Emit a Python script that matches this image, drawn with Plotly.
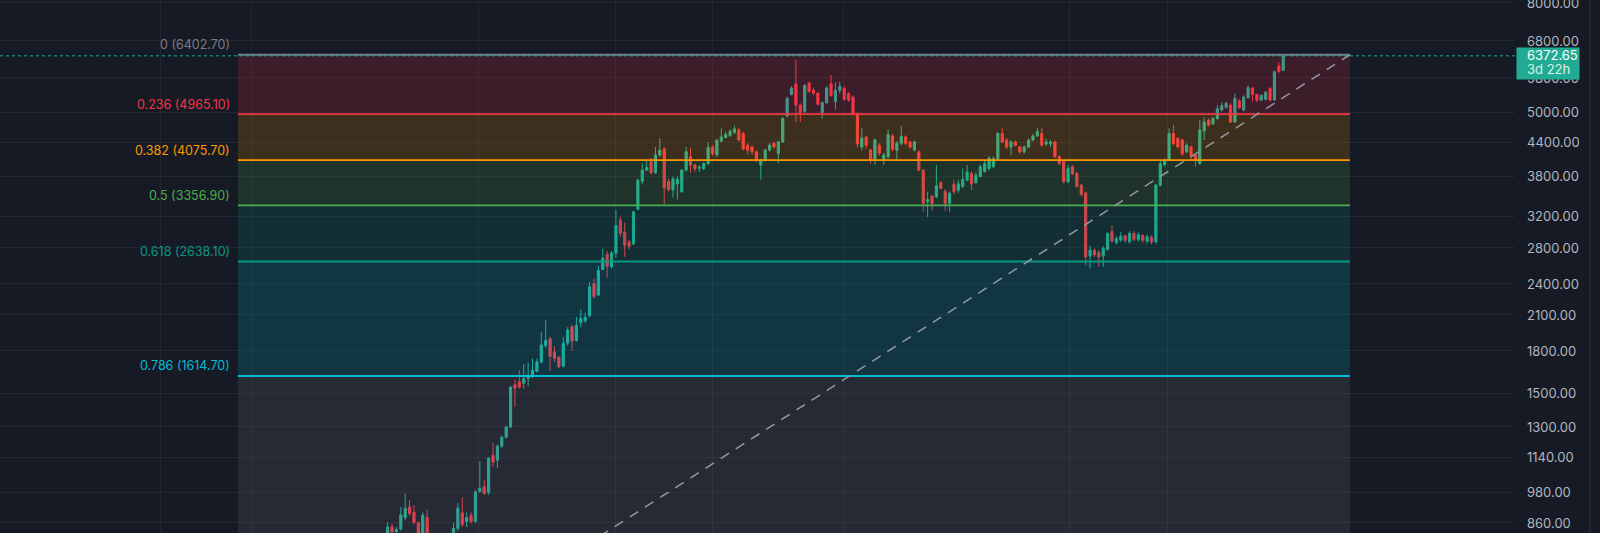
import math
import plotly.graph_objects as go

# ---------------- data ----------------
opens = [822, 845, 828, 838, 880, 921, 900, 860, 815, 880, 790, 720, 750, 780, 760, 790, 840, 898, 865, 888,
         866, 985, 1004, 980, 1149, 1125, 1195, 1242, 1297, 1555, 1575, 1565, 1598, 1612, 1648, 1715, 1840, 1895, 1790, 1750,
         1685, 1860, 1995, 1880, 2030, 2045, 2090, 2400, 2285, 2550, 2720, 2580, 2735, 3150, 2995, 2870, 2845, 3300, 3720, 3905,
         4050, 3860, 4165, 4275, 3720, 3585, 3680, 3560, 3904, 4135, 3990, 3935, 3930, 4015, 4310, 4170, 4420, 4490, 4530, 4590,
         4635, 4570, 4345, 4310, 4222, 3990, 4075, 4254, 4380, 4190, 4405, 4925, 5400, 5650, 5160, 5020, 5670, 5500, 5430, 5000,
         5210, 5650, 5240, 5500, 5540, 5420, 5340, 4965, 4310, 4500, 4254, 4075, 4345, 4075, 4135, 4520, 4250, 4380, 4500, 4405,
         4254, 4222, 3904, 3410, 3490, 3480, 3700, 3560, 3385, 3670, 3580, 3640, 3740, 3850, 3700, 3800, 3880, 3930, 3960, 4100,
         4570, 4440, 4310, 4405, 4310, 4222, 4310, 4441, 4520, 4570, 4370, 4370, 4405, 4135, 4050, 3715, 3960, 3850, 3660, 3540,
         2700, 2770, 2740, 2700, 2780, 3000, 2860, 2890, 2945, 2870, 2975, 2900, 2950, 2880, 2930, 2870, 3660, 3995, 4075, 4570,
         4470, 4441, 4222, 4310, 4164, 4015, 4620, 4838, 4760, 4870, 5050, 5110, 5160, 4800, 5250, 5050, 5330, 5550, 5400, 5270,
         5290, 5540, 5272, 6100, 5990]
highs = [862, 856, 845, 921, 976, 948, 928, 865, 900, 910, 812, 770, 800, 805, 800, 860, 936, 960, 900, 900,
         990, 1120, 1033, 1140, 1212, 1205, 1250, 1305, 1545, 1590, 1655, 1700, 1710, 1740, 1740, 1950, 2050, 1910, 1835, 1760,
         1910, 1990, 2010, 2080, 2150, 2120, 2420, 2450, 2590, 2790, 2760, 2760, 3290, 3200, 3120, 2900, 3280, 3760, 4020, 4060,
         4110, 4310, 4480, 4310, 3760, 3800, 3800, 3920, 4310, 4300, 4010, 3990, 4040, 4400, 4340, 4460, 4670, 4600, 4650, 4720,
         4680, 4600, 4380, 4340, 4250, 4100, 4280, 4380, 4410, 4430, 4900, 5350, 5600, 6260, 5200, 5650, 5700, 5560, 5450, 5240,
         5600, 5870, 5680, 5700, 5600, 5450, 5380, 5000, 4680, 4520, 4280, 4470, 4380, 4200, 4640, 4560, 4420, 4720, 4530, 4430,
         4430, 4250, 3920, 3560, 3510, 3990, 3720, 3600, 3560, 3740, 3740, 3930, 3990, 3880, 3870, 4000, 4060, 4140, 4140, 4600,
         4680, 4480, 4440, 4430, 4330, 4340, 4470, 4560, 4680, 4680, 4470, 4440, 4430, 4160, 4075, 3990, 3990, 3880, 3680, 3560,
         2820, 2790, 2770, 2820, 2990, 3080, 2940, 2990, 2960, 3000, 3010, 2990, 2970, 2960, 2950, 3680, 4060, 4100, 4670, 4740,
         4500, 4460, 4380, 4340, 4180, 4840, 4900, 4870, 4900, 5160, 5220, 5230, 5200, 5430, 5300, 5380, 5610, 5580, 5420, 5400,
         5480, 5580, 5980, 6200, 6402.7]
lows = [805, 815, 818, 832, 870, 886, 855, 800, 805, 770, 700, 690, 730, 740, 745, 780, 830, 845, 845, 858,
        860, 978, 970, 970, 1093, 1088, 1185, 1236, 1290, 1415, 1530, 1530, 1545, 1600, 1640, 1705, 1820, 1650, 1715, 1670,
        1675, 1840, 1800, 1870, 1990, 2030, 2080, 2250, 2275, 2540, 2460, 2560, 2680, 2930, 2690, 2780, 2830, 3290, 3670, 3890,
        3830, 3840, 4130, 3375, 3560, 3470, 3440, 3540, 3880, 3860, 3880, 3870, 3900, 3990, 4150, 4130, 4400, 4470, 4500, 4560,
        4420, 4250, 4180, 4170, 4040, 3750, 4050, 4230, 4280, 4020, 4390, 4900, 5380, 4800, 4800, 4990, 5440, 5380, 5150, 4870,
        5190, 5350, 5060, 5420, 5260, 5230, 4930, 4300, 4250, 4280, 4010, 3990, 4150, 3990, 4100, 4230, 4075, 4340, 4340, 4280,
        4230, 3880, 3265, 3190, 3280, 3460, 3590, 3280, 3265, 3520, 3540, 3610, 3720, 3583, 3680, 3780, 3860, 3900, 3940, 4080,
        4380, 4280, 4164, 4320, 4190, 4190, 4290, 4420, 4500, 4320, 4330, 4310, 4110, 3990, 3690, 3690, 3820, 3620, 3490, 2600,
        2560, 2690, 2580, 2580, 2760, 2860, 2840, 2870, 2860, 2850, 2880, 2870, 2860, 2850, 2840, 2850, 3640, 3960, 4060, 4340,
        4290, 4150, 4200, 4075, 3960, 3990, 4440, 4700, 4740, 4850, 5020, 5080, 4780, 4780, 5070, 5020, 5300, 5240, 5230, 5250,
        5260, 5240, 5250, 5920, 5970]
closes = [845, 827, 836, 890, 915, 896, 862, 822, 889, 790, 720, 750, 780, 760, 790, 840, 916, 855, 880, 866,
          982, 998, 975, 1135, 1116, 1195, 1242, 1297, 1540, 1532, 1540, 1595, 1612, 1655, 1715, 1843, 1880, 1755, 1742, 1680,
          1858, 1965, 1875, 2005, 2065, 2075, 2368, 2270, 2540, 2676, 2585, 2735, 3080, 2978, 2830, 2815, 3265, 3740, 3904, 3950,
          3860, 4165, 4250, 3615, 3590, 3760, 3755, 3904, 4225, 3990, 3930, 3950, 4015, 4305, 4190, 4440, 4500, 4550, 4610, 4660,
          4440, 4275, 4254, 4222, 4075, 4075, 4254, 4345, 4310, 4405, 4870, 5310, 5550, 5160, 5000, 5610, 5470, 5430, 5180, 5210,
          5550, 5380, 5500, 5590, 5290, 5270, 4960, 4370, 4480, 4345, 4075, 4441, 4200, 4165, 4550, 4270, 4380, 4510, 4380, 4310,
          4405, 3904, 3385, 3440, 3385, 3650, 3610, 3385, 3535, 3560, 3680, 3750, 3870, 3680, 3820, 3960, 4015, 4110, 4100, 4570,
          4405, 4310, 4405, 4345, 4222, 4310, 4441, 4520, 4610, 4345, 4405, 4400, 4135, 4015, 3715, 3930, 3840, 3640, 3520, 2690,
          2770, 2715, 2690, 2790, 2976, 2880, 2910, 2940, 2890, 2975, 2900, 2960, 2890, 2935, 2870, 3660, 4015, 4080, 4570, 4370,
          4310, 4190, 4345, 4164, 4075, 4635, 4800, 4735, 4870, 5080, 5150, 5200, 4800, 5310, 5100, 5340, 5560, 5400, 5270, 5380,
          5450, 5272, 5952, 5960, 6372.65]
bar_index = list(range(len(closes)))

fib_ratios = [0, 0.236, 0.382, 0.5, 0.618, 0.786, 1]
fib_prices = [6402.70, 4965.10, 4075.70, 3356.90, 2638.10, 1614.70, 311.10]
fib_colors = ["#787b86", "#f23645", "#ff9800", "#4caf50", "#089981", "#00bcd4", "#787b86"]
fib_start_bar = -34.1
fib_end_bar = 219.2
trend_start_bar = -31.1

last_price = 6372.65
countdown = "3d 22h"

y_ticks = [8000, 6800, 5800, 5000, 4400, 3800, 3200, 2800, 2400, 2100, 1800, 1500, 1300, 1140, 980, 860]
x_grid = [-51.8, -30.9, 20.8, 52.0, 73.9, 103.9, 155.4, 177.7]

# ---------------- style ----------------
BG = "#161a25"
GRID = "#222632"
UP = "#22ab94"
DOWN = "#f23645"
FONT = "Inter"
X_RANGE = [-88.3, 256.8]
Y_RANGE = [math.log10(823.5), math.log10(8097)]


def rgba(hex_color, a):
    h = hex_color.lstrip("#")
    return "rgba(%d,%d,%d,%.3f)" % (int(h[0:2], 16), int(h[2:4], 16), int(h[4:6], 16), a)


fig = go.Figure()

# fib background bands
for i in range(len(fib_prices) - 1):
    hi, lo = fib_prices[i], fib_prices[i + 1]
    fig.add_trace(go.Scatter(
        x=[fib_start_bar, fib_end_bar, fib_end_bar, fib_start_bar, fib_start_bar],
        y=[hi, hi, lo, lo, hi], mode="lines", fill="toself",
        fillcolor=rgba(fib_colors[i + 1], 0.17), line=dict(width=0),
        hoverinfo="skip", showlegend=False))

# fib level lines
for p, c in zip(fib_prices[:-1], fib_colors[:-1]):
    fig.add_trace(go.Scatter(x=[fib_start_bar, fib_end_bar], y=[p, p], mode="lines",
                             line=dict(color=c, width=1.8), hoverinfo="skip", showlegend=False))

# last price dotted line
fig.add_trace(go.Scatter(x=X_RANGE, y=[last_price, last_price], mode="lines",
                         line=dict(color=UP, width=1, dash="dot"), hoverinfo="skip", showlegend=False))

# candles
fig.add_trace(go.Candlestick(
    x=bar_index, open=opens, high=highs, low=lows, close=closes,
    increasing=dict(line=dict(color=UP, width=1), fillcolor=UP),
    decreasing=dict(line=dict(color=DOWN, width=1), fillcolor=DOWN),
    whiskerwidth=0, showlegend=False, hoverinfo="skip"))

# fib trend (dashed diagonal)
fig.add_trace(go.Scatter(x=[trend_start_bar, fib_end_bar], y=[fib_prices[-1], fib_prices[0]], mode="lines",
                         line=dict(color="#9598a1", width=1.5, dash="10px,8px"),
                         hoverinfo="skip", showlegend=False))

annotations = []
for r, p, c in zip(fib_ratios[:-1], fib_prices[:-1], fib_colors[:-1]):
    annotations.append(dict(
        x=fib_start_bar, y=math.log10(p), xref="x", yref="y",
        text="%s (%.2f)" % (("%g" % r), p), showarrow=False,
        xanchor="right", yanchor="middle", xshift=-6, yshift=10,
        font=dict(family=FONT, size=12.5, color=c)))

# price-scale labels
for v in y_ticks:
    annotations.append(dict(x=1, y=math.log10(v), xref="paper", yref="y", text="%.2f" % v,
                            showarrow=False, xanchor="left", yanchor="middle", xshift=10,
                            font=dict(family=FONT, size=13, color="#b2b5be")))

# last price label
annotations.append(dict(x=1, y=math.log10(last_price), xref="paper", yref="y", text=" ",
                        showarrow=False, xanchor="left", yanchor="top", xshift=1, yshift=9,
                        width=62, height=31, bgcolor=UP, borderpad=0,
                        font=dict(family=FONT, size=12, color="#ffffff")))
annotations.append(dict(x=1, y=math.log10(last_price), xref="paper", yref="y",
                        text="%.2f" % last_price, showarrow=False, xanchor="left", yanchor="middle",
                        xshift=10, yshift=1, font=dict(family=FONT, size=13, color="#ffffff")))
annotations.append(dict(x=1, y=math.log10(last_price), xref="paper", yref="y",
                        text=countdown, showarrow=False, xanchor="left", yanchor="middle",
                        xshift=10, yshift=-13, font=dict(family=FONT, size=13, color="rgba(255,255,255,0.85)")))

fig.update_layout(
    width=1600, height=533,
    margin=dict(l=0, r=85, t=0, b=0),
    paper_bgcolor=BG, plot_bgcolor=BG,
    showlegend=False, hovermode=False,
    annotations=annotations,
    shapes=[dict(type="line", xref="paper", yref="paper", x0=1590 / 1515, x1=1590 / 1515, y0=0, y1=1,
                 line=dict(color="#2a2e39", width=1))],
    xaxis=dict(range=X_RANGE, rangeslider=dict(visible=False), showticklabels=False,
               tickvals=x_grid, showgrid=True, gridcolor=GRID, gridwidth=1,
               zeroline=False, showline=False, ticks=""),
    yaxis=dict(type="log", range=Y_RANGE, side="right", tickvals=y_ticks,
               showticklabels=False, showgrid=True, gridcolor=GRID, gridwidth=1,
               zeroline=False, showline=False, ticks=""),
)

fig.write_html("out.html", config={"displayModeBar": False},
               post_script="document.body.style.margin='0';document.body.style.background='%s';"
                           "document.documentElement.style.overflow='hidden';" % BG)
